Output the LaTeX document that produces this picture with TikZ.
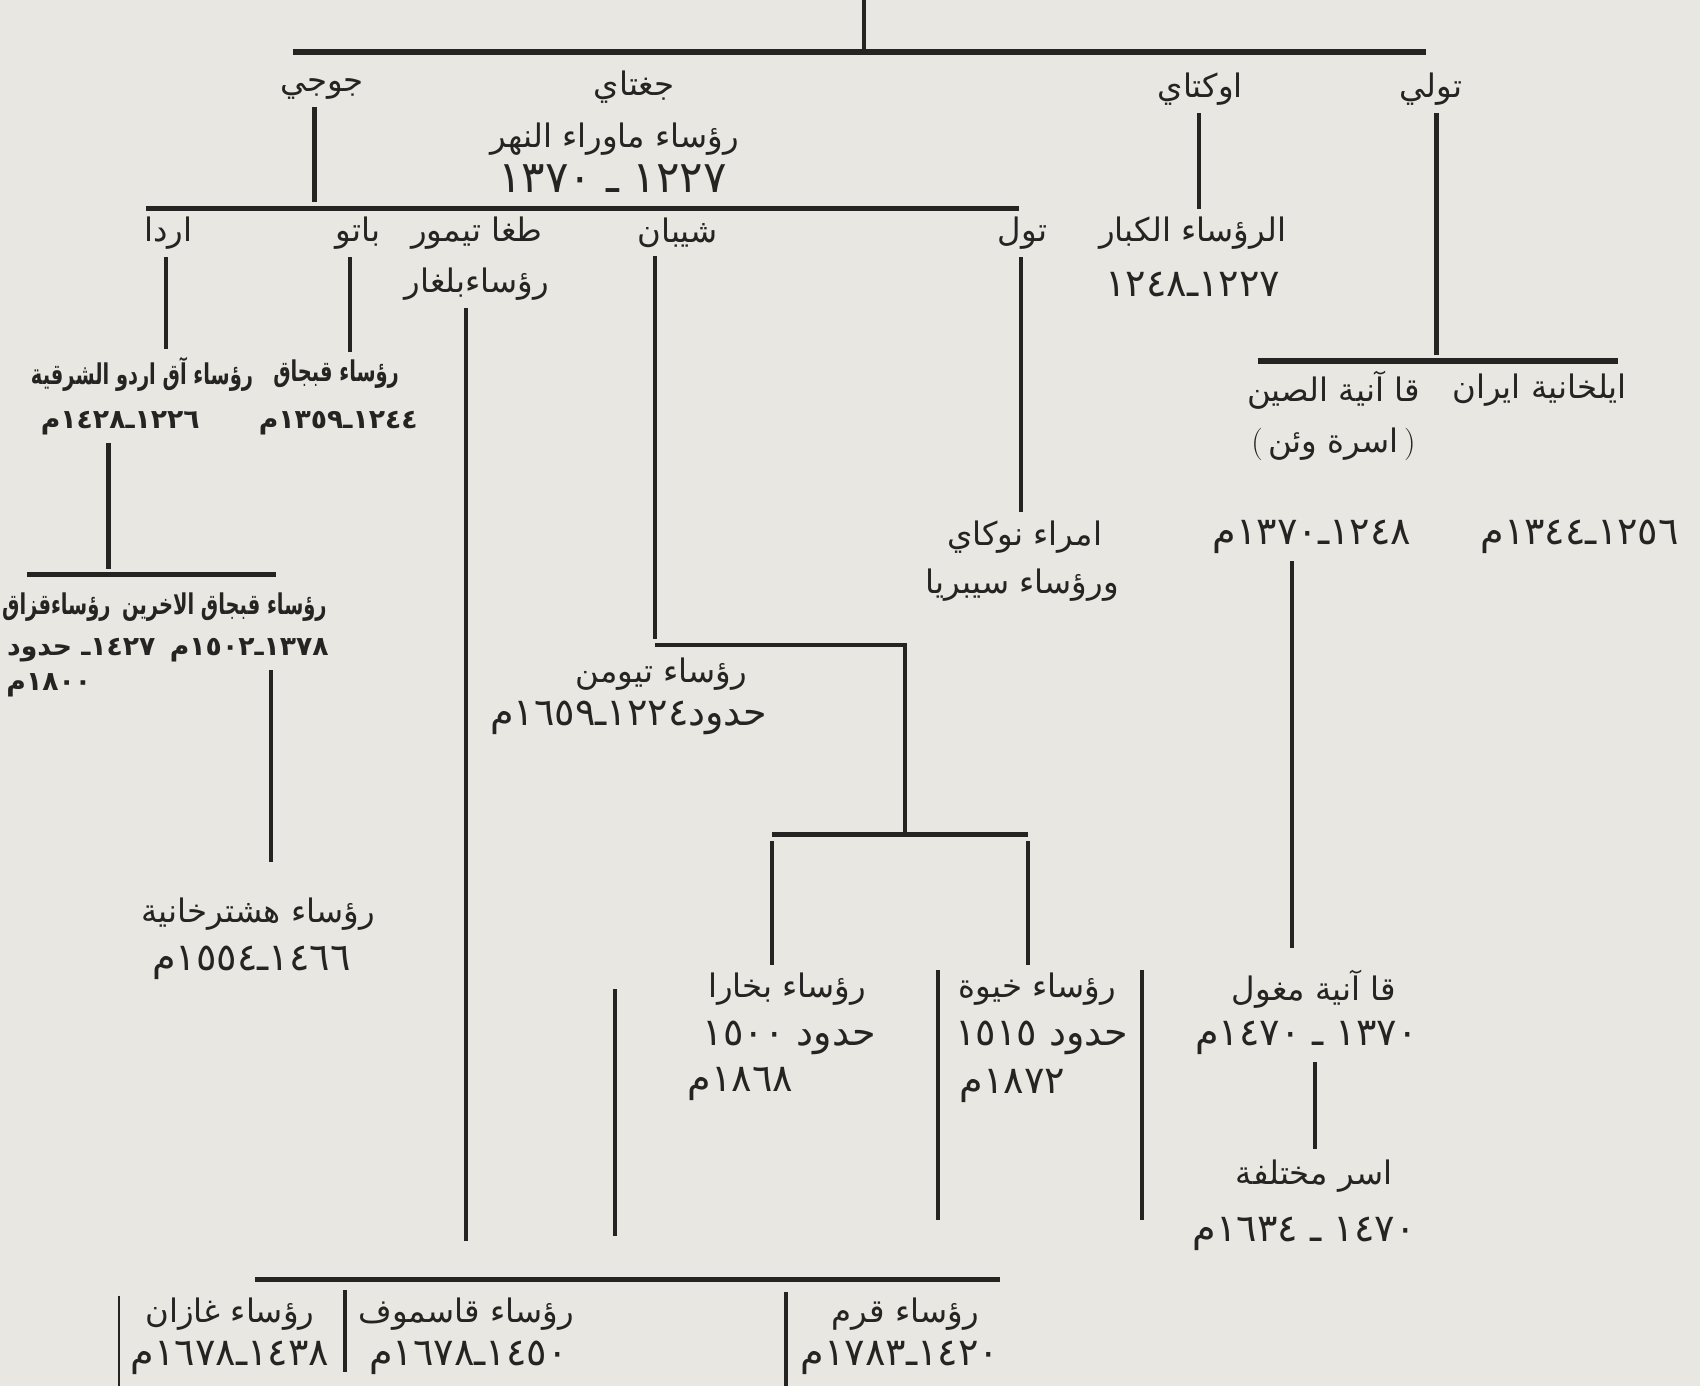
\documentclass[tikz,border=0pt]{standalone}
\usepackage{fontspec}
\usepackage{xcolor}
\usepackage{tikz}
\newfontfamily\arabicfont[Script=Arabic]{DejaVu Sans}
\newfontfamily\arabicnarrow[Script=Arabic, FakeStretch=0.68]{DejaVu Sans}
\TeXXeTstate=1
\definecolor{paper}{RGB}{233,231,226}
\definecolor{ink}{RGB}{38,36,34}
\newcommand{\artxt}[1]{\beginR #1\endR}
\tikzset{
  lbl/.style={font=\arabicfont\fontsize{17}{20}\selectfont, text=ink, inner sep=1pt},
  yrs/.style={lbl, font=\arabicfont\fontsize{20}{24}\selectfont},
  tight/.style={lbl, font=\arabicnarrow\bfseries\fontsize{15}{18}\selectfont},
  tightyrs/.style={lbl, font=\arabicfont\bfseries\fontsize{14}{18}\selectfont},
  bar/.style={draw=ink, line width=2.7pt},
  stem/.style={draw=ink, line width=2.2pt, shorten <=3pt, shorten >=3pt},
  rule/.style={draw=ink, line width=2.2pt},
  hair/.style={draw=ink, line width=0.9pt}
}

\begin{document}
\begin{tikzpicture}[x=0.02cm, y=-0.02cm]
    \fill[paper] (0,0) rectangle (1568,1278);
    \useasboundingbox (0,0) rectangle (1568,1278);
    % sons
    \node[lbl] (jochi) at (297,82) {\artxt{جوجي}};
    \node[lbl] (chagatai) at (585,80) {\artxt{جغتاي}};
    \node[lbl] (chagRul) at (567,128) {\artxt{رؤساء ماوراء النهر}};
    \node[yrs, font=\arabicfont\fontsize{23}{26}\selectfont] (chagDate) at (565,165) {\artxt{١٢٢٧ ـ ١٣٧٠}};
    \node[lbl] (ogedei) at (1107,82) {\artxt{اوكتاي}};
    \node[lbl] (tolui) at (1320,82) {\artxt{تولي}};
    % grandsons of jochi
    \node[lbl] (orda) at (155,215) {\artxt{اردا}};
    \node[lbl] (batu) at (330,215) {\artxt{باتو}};
    \node[lbl] (tughaA) at (440,215) {\artxt{طغا تيمور}};
    \node[lbl] (tughaB) at (440,262) {\artxt{رؤساءبلغار}};
    \node[lbl] (shiban) at (625,215) {\artxt{شيبان}};
    \node[lbl] (tula) at (943,215) {\artxt{تول}};
    \node[lbl] (greatA) at (1100,215) {\artxt{الرؤساء الكبار}};
    \node[yrs] (greatB) at (1100,262) {\artxt{١٢٢٧ـ١٢٤٨}};
    \node[tight] (akorda) at (131,345) {\artxt{رؤساء آق اردو الشرقية}};
    \node[tightyrs] (akordaDate) at (111,390) {\artxt{١٢٢٦ـ١٤٢٨م}};
    \node[tight] (kipchak) at (310,345) {\artxt{رؤساء قبجاق}};
    \node[tightyrs] (kipchakDate) at (312,390) {\artxt{١٢٤٤ـ١٣٥٩م}};
    % tolui line
    \node[lbl] (ilkhan) at (1420,360) {\artxt{ايلخانية ايران}};
    \node[yrs] (ilkhanDate) at (1457,495) {\artxt{١٢٥٦ـ١٣٤٤م}};
    \node[lbl] (yuanA) at (1230,360) {\artxt{قا آنية الصين}};
    \node[lbl] (yuanB) at (1230,410) {{\rmfamily(}\,\artxt{اسرة وئن}\,{\rmfamily)}};
    \node[yrs] (yuanDate) at (1210,495) {\artxt{١٢٤٨ـ١٣٧٠م}};
    \node[lbl] (nogaiA) at (945,495) {\artxt{امراء نوكاي}};
    \node[lbl] (nogaiB) at (943,540) {\artxt{ورؤساء سيبريا}};
    % later khanates
    \node[tight] (otherKip) at (207,560) {\artxt{رؤساء قبجاق الاخرين}};
    \node[tight] (kazakh) at (52,560) {\artxt{رؤساءقزاق}};
    \node[tightyrs] (otherKipDate) at (230,600) {\artxt{١٣٧٨ـ١٥٠٢م}};
    \node[tightyrs] (kazakhDate) at (75,600) {\artxt{١٤٢٧ـ حدود}};
    \node[tightyrs] (kazakhEnd) at (45,632) {\artxt{١٨٠٠م}};
    \node[lbl] (astrakhanA) at (238,843) {\artxt{رؤساء هشترخانية}};
    \node[yrs] (astrakhanB) at (232,888) {\artxt{١٤٦٦ـ١٥٥٤م}};
    \node[lbl] (tumenA) at (610,622) {\artxt{رؤساء تيومن}};
    \node[yrs] (tumenB) at (580,662) {\artxt{حدود١٢٢٤ـ١٦٥٩م}};
    \node[lbl] (bukharaA) at (726,912) {\artxt{رؤساء بخارا}};
    \node[yrs] (bukharaB) at (728,957) {\artxt{حدود ١٥٠٠}};
    \node[yrs] (bukharaC) at (683,1000) {\artxt{١٨٦٨م}};
    \node[lbl] (khivaA) at (957,912) {\artxt{رؤساء خيوة}};
    \node[yrs] (khivaB) at (961,957) {\artxt{حدود ١٥١٥}};
    \node[yrs] (khivaC) at (934,1002) {\artxt{١٨٧٢م}};
    \node[lbl] (mughalA) at (1212,912) {\artxt{قا آنية مغول}};
    \node[yrs] (mughalB) at (1205,957) {\artxt{١٣٧٠ ـ ١٤٧٠م}};
    \node[lbl] (variousA) at (1212,1085) {\artxt{اسر مختلفة}};
    \node[yrs] (variousB) at (1203,1138) {\artxt{١٤٧٠ ـ ١٦٣٤م}};
    \node[lbl] (kazanA) at (212,1212) {\artxt{رؤساء غازان}};
    \node[yrs] (kazanB) at (212,1252) {\artxt{١٤٣٨ـ١٦٧٨م}};
    \node[lbl] (kasimovA) at (430,1212) {\artxt{رؤساء قاسموف}};
    \node[yrs] (kasimovB) at (432,1252) {\artxt{١٤٥٠ـ١٦٧٨م}};
    \node[lbl] (crimeaA) at (835,1212) {\artxt{رؤساء قرم}};
    \node[yrs] (crimeaB) at (830,1252) {\artxt{١٤٢٠ـ١٧٨٣م}};
    % junction points
    \coordinate (root) at (797,0);
    \coordinate (gen1) at (797,48);
    \coordinate (gen1l) at (270,48);
    \coordinate (gen1r) at (1315,48);
    \coordinate (gen2l) at (135,192);
    \coordinate (gen2r) at (940,192);
    \coordinate (jochiX) at (290,192);
    \coordinate (ordaX) at (153,192);
    \coordinate (batuX) at (323,192);
    \coordinate (tughaX) at (430,1150);
    \coordinate (shibanX) at (604,595);
    \coordinate (tumenR) at (835,595);
    \coordinate (split) at (835,770);
    \coordinate (splitl) at (712,770);
    \coordinate (splitr) at (948,770);
    \coordinate (tulaX) at (942,192);
    \coordinate (ogedeiX) at (1106,192);
    \coordinate (toluiX) at (1325,333);
    \coordinate (ilkl) at (1160,333);
    \coordinate (ilkr) at (1492,333);
    \coordinate (yuanX) at (1192,880);
    \coordinate (mughalX) at (1213,1065);
    \coordinate (akX) at (100,530);
    \coordinate (akl) at (25,530);
    \coordinate (akr) at (255,530);
    \coordinate (asX) at (250,800);
    \coordinate (botl) at (235,1180);
    \coordinate (botr) at (922,1180);
    \coordinate (sepA) at (567,912);
    \coordinate (sepAe) at (567,1140);
    \coordinate (sepB) at (865,895);
    \coordinate (sepBe) at (865,1125);
    \coordinate (sepC) at (1053,895);
    \coordinate (sepCe) at (1053,1125);
    \coordinate (divA) at (110,1195);
    \coordinate (divAe) at (110,1278);
    \coordinate (divB) at (318,1190);
    \coordinate (divBe) at (318,1265);
    \coordinate (divC) at (725,1192);
    \coordinate (divCe) at (725,1278);
    % bars
    \draw[rule] (root) -- (gen1);
    \draw[bar] (gen1l) -- (gen1r);
    \draw[bar] (gen2l) -- (gen2r);
    \draw[bar] (ilkl) -- (ilkr);
    \draw[bar] (akl) -- (akr);
    \draw[bar] (botl) -- (botr);
    \draw[rule] (shibanX) -- (tumenR) -- (split);
    \draw[bar] (splitl) -- (splitr);
    % stems
    \draw[stem] (jochiX |- jochi.south) -- (jochiX);
    \draw[stem] (ogedeiX |- ogedei.south) -- (ogedeiX |- greatA.north);
    \draw[stem] (toluiX |- tolui.south) -- (toluiX);
    \draw[stem] (ordaX |- orda.south) -- (ordaX |- akorda.north);
    \draw[stem] (batuX |- batu.south) -- (batuX |- kipchak.north);
    \draw[stem] (tughaX |- tughaB.south) -- (tughaX);
    \draw[stem] (shibanX |- shiban.south) -- (shibanX);
    \draw[stem] (tulaX |- tula.south) -- (tulaX |- nogaiA.north);
    \draw[stem] (splitl) -- (splitl |- bukharaA.north);
    \draw[stem] (splitr) -- (splitr |- khivaA.north);
    \draw[stem] (akX |- akordaDate.south) -- (akX);
    \draw[stem] (asX |- otherKipDate.south) -- (asX);
    \draw[stem] (yuanX |- yuanDate.south) -- (yuanX);
    \draw[stem] (mughalX |- mughalB.south) -- (mughalX);
    \draw[rule] (sepA) -- (sepAe);
    \draw[rule] (sepB) -- (sepBe);
    \draw[rule] (sepC) -- (sepCe);
    \draw[hair] (divA) -- (divAe);
    \draw[rule] (divB) -- (divBe);
    \draw[rule] (divC) -- (divCe);
\end{tikzpicture}
\end{document}
